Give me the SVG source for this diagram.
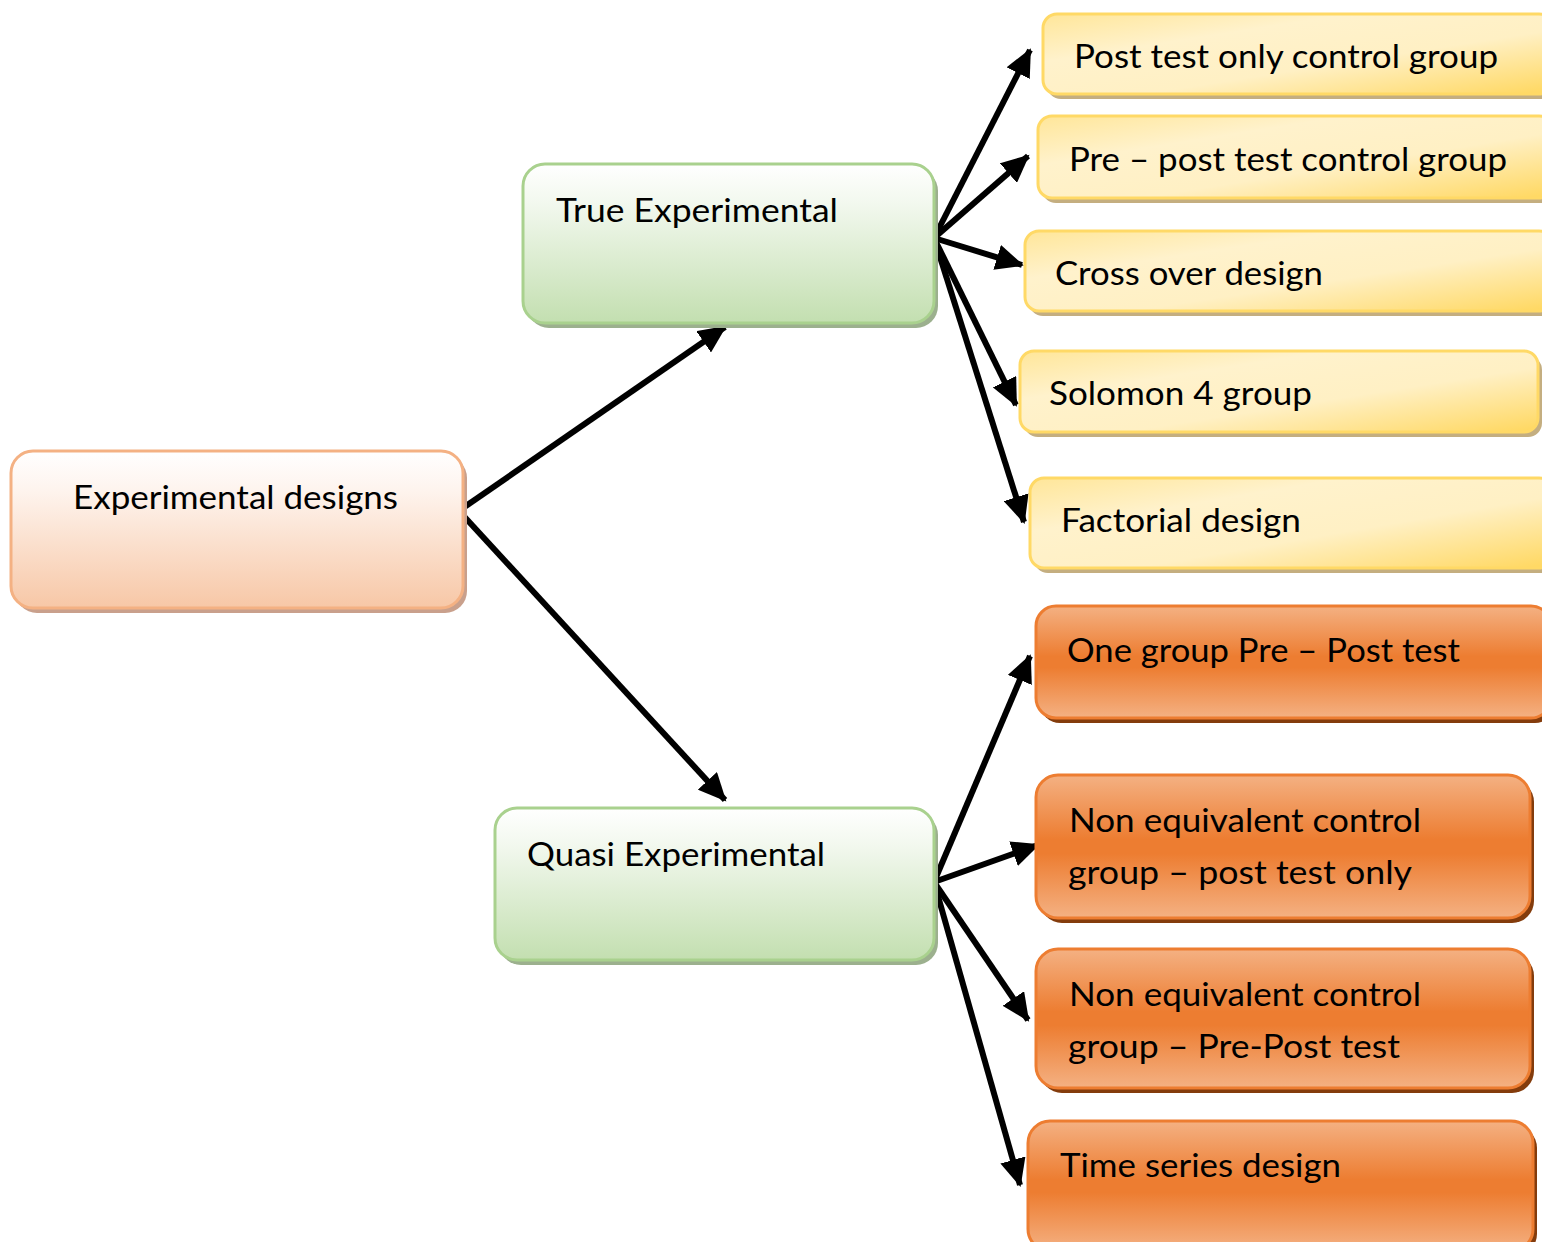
<svg xmlns="http://www.w3.org/2000/svg" width="1542" height="1242" viewBox="0 0 1542 1242">
<defs>
<linearGradient id="gPeach" x1="0" y1="0" x2="0" y2="1">
<stop offset="0" stop-color="#FFFFFF"/><stop offset="0.25" stop-color="#FEF4EE"/><stop offset="1" stop-color="#F7C7A6"/>
</linearGradient>
<linearGradient id="gGreen" x1="0" y1="0" x2="0" y2="1">
<stop offset="0" stop-color="#FFFFFF"/><stop offset="0.25" stop-color="#F2F8EE"/><stop offset="1" stop-color="#C3DFB0"/>
</linearGradient>
<linearGradient id="gYellow" x1="0" y1="0" x2="1" y2="1">
<stop offset="0" stop-color="#FFE699"/><stop offset="0.3" stop-color="#FFF2CC"/><stop offset="0.6" stop-color="#FFF0C4"/><stop offset="1" stop-color="#FFD75E"/>
</linearGradient>
<linearGradient id="gOrange" x1="0" y1="0" x2="0" y2="1">
<stop offset="0" stop-color="#F4B183"/><stop offset="0.45" stop-color="#ED7D31"/><stop offset="0.55" stop-color="#ED7D31"/><stop offset="1" stop-color="#F4B183"/>
</linearGradient>
<marker id="arr" markerUnits="userSpaceOnUse" markerWidth="30" markerHeight="26" refX="26" refY="13" orient="auto">
<path d="M0,0 L28,13 L0,26 Z" fill="#000"/>
</marker>
<style>
.t{font-family:Lato,"Open Sans","Liberation Sans",sans-serif;font-size:32px;fill:#000}
.sP{fill:#C9A08C}.sG{fill:#9CB08E}.sY{fill:#C4AE80}.sO{fill:#843C0C}
.nP{fill:url(#gPeach);stroke:#F4B183;stroke-width:3}
.nG{fill:url(#gGreen);stroke:#A9D18E;stroke-width:3}
.nY{fill:url(#gYellow);stroke:#FFD966;stroke-width:3}
.nO{fill:url(#gOrange);stroke:#ED7D31;stroke-width:3}
.c{stroke:#000;stroke-width:6;fill:none;marker-end:url(#arr)}
</style>
</defs>
<rect width="1542" height="1242" fill="#FFFFFF"/>

<g id="connectors">
<line class="c" x1="463" y1="508" x2="725" y2="327"/>
<line class="c" x1="460" y1="512" x2="725" y2="800"/>
<line class="c" x1="934" y1="238" x2="1030" y2="50"/>
<line class="c" x1="934" y1="238" x2="1028" y2="156"/>
<line class="c" x1="934" y1="238" x2="1022" y2="265"/>
<line class="c" x1="934" y1="238" x2="1016" y2="405"/>
<line class="c" x1="934" y1="238" x2="1024" y2="522"/>
<line class="c" x1="934" y1="882" x2="1030" y2="656"/>
<line class="c" x1="934" y1="882" x2="1038" y2="845"/>
<line class="c" x1="934" y1="882" x2="1028" y2="1020"/>
<line class="c" x1="934" y1="882" x2="1020" y2="1185"/>
</g>

<g id="n-experimental">
<rect class="sP" x="15" y="456" width="452" height="157" rx="22"/>
<rect class="nP" x="11" y="451" width="452" height="157" rx="22"/>
<text class="t" x="73" y="509" textLength="325" lengthAdjust="spacingAndGlyphs">Experimental designs</text>
</g>

<g id="n-true">
<rect class="sG" x="527" y="169" width="411" height="159" rx="22"/>
<rect class="nG" x="523" y="164" width="411" height="159" rx="22"/>
<text class="t" x="556" y="222" textLength="282" lengthAdjust="spacingAndGlyphs">True Experimental</text>
</g>

<g id="n-quasi">
<rect class="sG" x="499" y="813" width="439" height="152" rx="22"/>
<rect class="nG" x="495" y="808" width="439" height="152" rx="22"/>
<text class="t" x="527" y="866" textLength="298" lengthAdjust="spacingAndGlyphs">Quasi Experimental</text>
</g>

<g id="n-y1">
<rect class="sY" x="1047" y="19" width="510" height="80" rx="14"/>
<rect class="nY" x="1043" y="14" width="510" height="80" rx="14"/>
<text class="t" x="1074" y="68" textLength="424" lengthAdjust="spacingAndGlyphs">Post test only control group</text>
</g>

<g id="n-y2">
<rect class="sY" x="1042" y="121" width="515" height="82" rx="14"/>
<rect class="nY" x="1038" y="116" width="515" height="82" rx="14"/>
<text class="t" x="1069" y="171" textLength="438" lengthAdjust="spacingAndGlyphs">Pre – post test control group</text>
</g>

<g id="n-y3">
<rect class="sY" x="1029" y="236" width="528" height="80" rx="14"/>
<rect class="nY" x="1025" y="231" width="528" height="80" rx="14"/>
<text class="t" x="1055" y="285" textLength="268" lengthAdjust="spacingAndGlyphs">Cross over design</text>
</g>

<g id="n-y4">
<rect class="sY" x="1024" y="356" width="518" height="81" rx="14"/>
<rect class="nY" x="1020" y="351" width="518" height="81" rx="14"/>
<text class="t" x="1049" y="405" textLength="263" lengthAdjust="spacingAndGlyphs">Solomon 4 group</text>
</g>

<g id="n-y5">
<rect class="sY" x="1034" y="483" width="523" height="90" rx="14"/>
<rect class="nY" x="1030" y="478" width="523" height="90" rx="14"/>
<text class="t" x="1061" y="532" textLength="240" lengthAdjust="spacingAndGlyphs">Factorial design</text>
</g>

<g id="n-o1">
<rect class="sO" x="1040" y="611" width="515" height="112" rx="20"/>
<rect class="nO" x="1036" y="606" width="515" height="112" rx="20"/>
<text class="t" x="1067" y="662" textLength="393" lengthAdjust="spacingAndGlyphs">One group Pre – Post test</text>
</g>

<g id="n-o2">
<rect class="sO" x="1040" y="780" width="494" height="143" rx="22"/>
<rect class="nO" x="1036" y="775" width="494" height="143" rx="22"/>
<text class="t" x="1069" y="832" textLength="352" lengthAdjust="spacingAndGlyphs">Non equivalent control</text>
<text class="t" x="1068" y="884" textLength="344" lengthAdjust="spacingAndGlyphs">group –  post test only</text>
</g>

<g id="n-o3">
<rect class="sO" x="1040" y="954" width="494" height="139" rx="22"/>
<rect class="nO" x="1036" y="949" width="494" height="139" rx="22"/>
<text class="t" x="1069" y="1006" textLength="352" lengthAdjust="spacingAndGlyphs">Non equivalent control</text>
<text class="t" x="1068" y="1058" textLength="332" lengthAdjust="spacingAndGlyphs">group –  Pre-Post test</text>
</g>

<g id="n-o4">
<rect class="sO" x="1032" y="1126" width="505" height="130" rx="22"/>
<rect class="nO" x="1028" y="1121" width="505" height="130" rx="22"/>
<text class="t" x="1060" y="1177" textLength="281" lengthAdjust="spacingAndGlyphs">Time series design</text>
</g>
</svg>
